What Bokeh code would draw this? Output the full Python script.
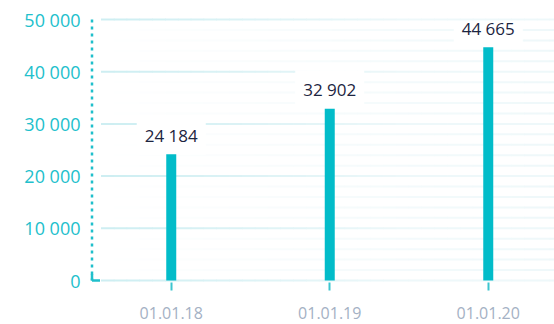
from bokeh.plotting import figure
from bokeh.models import Range1d, FixedTicker, ColumnDataSource
from bokeh.core.properties import value
from bokeh.embed import file_html
from bokeh.resources import INLINE

# ---- data ----
categories = ["01.01.18", "01.01.19", "01.01.20"]
values = [24184, 32902, 44665]
y_ticks = [0, 10000, 20000, 30000, 40000, 50000]
y_tick_labels = ["0", "10 000", "20 000", "30 000", "40 000", "50 000"]
minor_ticks = [v for v in range(0, 50001, 2000) if v % 10000 != 0]

FONT = "Open Sans"
CYAN = "#1fbfcb"
BAR = "#02bcc9"

xs = list(range(len(categories)))
val_text = [f"{v:,}".replace(",", " ") for v in values]

PX_X = 158.5            # pixels per category
W, H = 554, 324
left_b, top_b, bot_b = 88, 15, 42
frame_h = H - top_b - bot_b
PX_Y = 261 / 50000.0

x0 = -0.5 - 3.5 / PX_X
x1 = x0 + (W - left_b) / PX_X
y0 = -2 / PX_Y
y1 = y0 + frame_h / PX_Y

p = figure(width=W, height=H, output_backend="svg", toolbar_location=None,
           x_range=Range1d(x0, x1), y_range=Range1d(y0, y1),
           min_border_left=left_b, min_border_right=0, min_border_top=top_b,
           min_border_bottom=bot_b)
p.outline_line_color = None
p.xgrid.visible = False
p.ygrid.visible = False
p.background_fill_color = "white"


def mix(c1, c2, t):
    a = [int(c1[i:i + 2], 16) for i in (1, 3, 5)]
    b = [int(c2[i:i + 2], 16) for i in (1, 3, 5)]
    return "#" + "".join(f"{round(u + (v - u) * t):02x}" for u, v in zip(a, b))


# grid lines as fading pieces (start a bit right of the axis)
gx0 = -0.5 + 9 / PX_X
gx1 = x1 + 0.05
N = 36
edges = [gx0 + (gx1 - gx0) * i / N for i in range(N + 1)]
fade_end = 1.5  # data x where major lines reach their faint colour

def pieces(levels, c_left, c_right, span_end, level="glyph"):
    X0, X1, Y, C = [], [], [], []
    for yv in levels:
        for i in range(N):
            xm = (edges[i] + edges[i + 1]) / 2
            t = min(1.0, max(0.0, (xm - gx0) / (span_end - gx0)))
            X0.append(edges[i]); X1.append(edges[i + 1] + 0.004)
            Y.append(yv); C.append(mix(c_left, c_right, t))
    p.segment(x0=X0, x1=X1, y0=Y, y1=Y, line_color=C, line_width=2, level=level)

pieces(minor_ticks, "#ffffff", "#eef8fa", gx1)
pieces(y_ticks[:-1], "#cdeef2", "#eef8fa", fade_end)

# dotted axis line with L corner
p.segment(x0=[-0.5], x1=[-0.5], y0=[y_ticks[-1]], y1=[y_ticks[0]],
          line_color=CYAN, line_width=2.5, line_dash="3 4")
p.segment(x0=[-0.5], x1=[-0.5], y0=[0], y1=[6.5 / PX_Y],
          line_color=CYAN, line_width=2.5)
p.segment(x0=[-0.5], x1=[-0.5 + 8 / PX_X], y0=[0], y1=[0],
          line_color=CYAN, line_width=2.5)

src = ColumnDataSource(dict(x=xs, top=values, label=val_text))

# value labels (white box interrupts grid lines)
p.text(x="x", y="top", text="label", source=src, y_offset=-19,
       text_align="center", text_baseline="alphabetic",
       text_font=value(FONT), text_font_size="17px", text_color="#1c2541",
       background_fill_color="white", padding=8)

# top grid line drawn above the label boxes
pieces([y_ticks[-1]], "#cdeef2", "#eef8fa", fade_end, level="overlay")

# bars
p.vbar(x="x", top="top", bottom=0, width=10 / PX_X, source=src,
       fill_color=BAR, line_color=None)

# axes
p.yaxis.ticker = FixedTicker(ticks=y_ticks)
p.yaxis.major_label_overrides = {t: l for t, l in zip(y_ticks, y_tick_labels)}
p.yaxis.axis_line_color = None
p.yaxis.major_tick_line_color = None
p.yaxis.minor_tick_line_color = None
p.yaxis.major_tick_out = 0
p.yaxis.major_tick_in = 0
p.yaxis.minor_tick_out = 0
p.yaxis.major_label_standoff = 8
p.yaxis.major_label_text_font = FONT
p.yaxis.major_label_text_font_size = "18px"
p.yaxis.major_label_text_color = "#22c0cc"

p.xaxis.ticker = FixedTicker(ticks=xs)
p.xaxis.major_label_overrides = {x: c for x, c in zip(xs, categories)}
p.xaxis.axis_line_color = None
p.xaxis.major_tick_line_color = "#3cc5cf"
p.xaxis.major_tick_line_width = 2
p.xaxis.major_tick_out = 8
p.xaxis.major_tick_in = 0
p.xaxis.minor_tick_line_color = None
p.xaxis.major_label_standoff = 16
p.xaxis.major_label_text_font = FONT
p.xaxis.major_label_text_font_size = "16px"
p.xaxis.major_label_text_color = "#a4b1c4"

open("out.html", "w").write(file_html(p, INLINE))
